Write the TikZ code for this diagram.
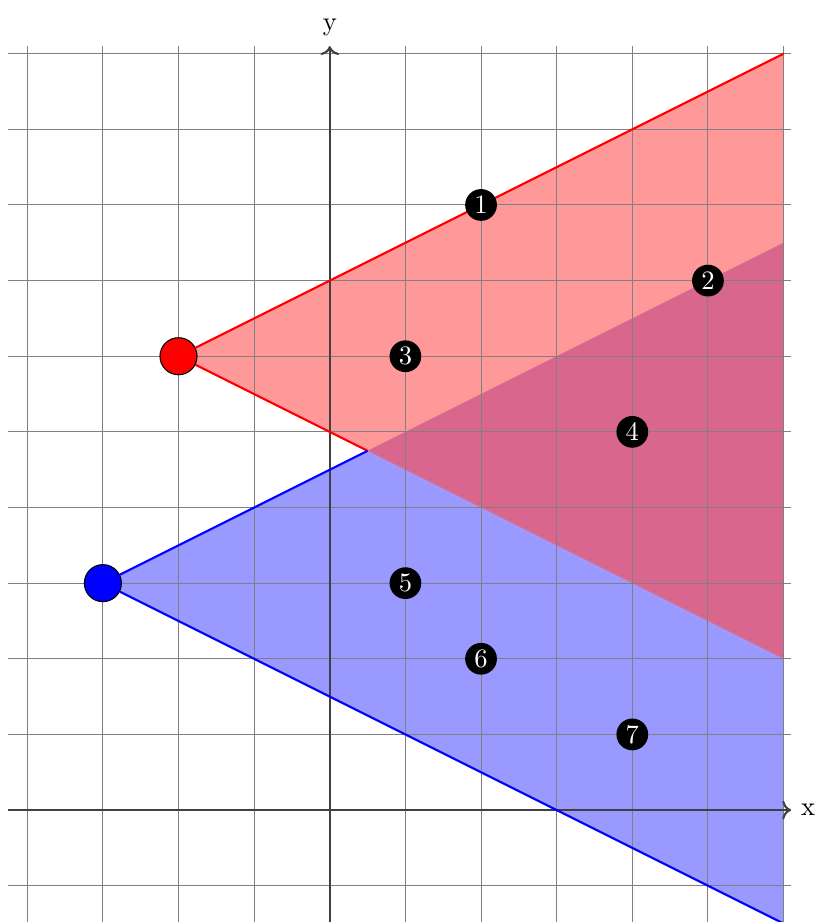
\documentclass[tikz,border=0pt]{standalone}
\usepackage{tikz}
\usetikzlibrary{arrows.meta,calc}
\tikzset{
  seed/.style={circle,draw=black,thin,minimum size=0.49cm,inner sep=0pt},
  tag/.style={circle,fill=black,text=white,minimum size=0.42cm,inner sep=0pt},
  axis/.style={black!75,thick,->},
}
\begin{document}
\begin{tikzpicture}
  \clip (-4.36,-1.48) rectangle (6.49,10.71);
  % corners of the two cones
  \coordinate (rtop) at (6,10);
  \coordinate (rbot) at (6,2);
  \coordinate (btop) at (6,7.5);
  \coordinate (bbot) at (6,-1.5);
  \coordinate (meet) at (0.5,4.75);
  \fill[blue!40] (-3,3) -- (btop) -- (bbot) -- cycle;
  \fill[red!40] (-2,6) -- (rtop) -- (rbot) -- cycle;
  \fill[purple!60] (meet) -- (btop) -- (rbot) -- cycle;
  \draw[gray,thin] (-4.25,-1.6) grid (6.1,10.1);
  % axes
  \coordinate (xfrom) at (-4.25,0);
  \coordinate (xto) at (6.1,0);
  \coordinate (yfrom) at (0,-1.6);
  \coordinate (yto) at (0,10.1);
  \draw[axis] (xfrom) -- (xto) node[right,black] (xlab) {x};
  \draw[axis] (yfrom) -- (yto) node[above,black] (ylab) {y};
  % apex points and edges
  \node[seed,fill=red] (pr) at (-2,6) {};
  \node[seed,fill=blue] (pb) at (-3,3) {};
  \draw[red,thick] (pr) -- (rtop);
  \draw[red,thick] (pr) -- (meet);
  \draw[blue,thick] (pb) -- (meet);
  \draw[blue,thick] (pb) -- (bbot);
  % numbered regions
  \foreach \n/\px/\py in {1/2/8,2/5/7,3/1/6,4/4/5,5/1/3,6/2/2,7/4/1}{
    \node[tag] (m\n) at (\px,\py) {\n};
  }
\end{tikzpicture}
\end{document}
